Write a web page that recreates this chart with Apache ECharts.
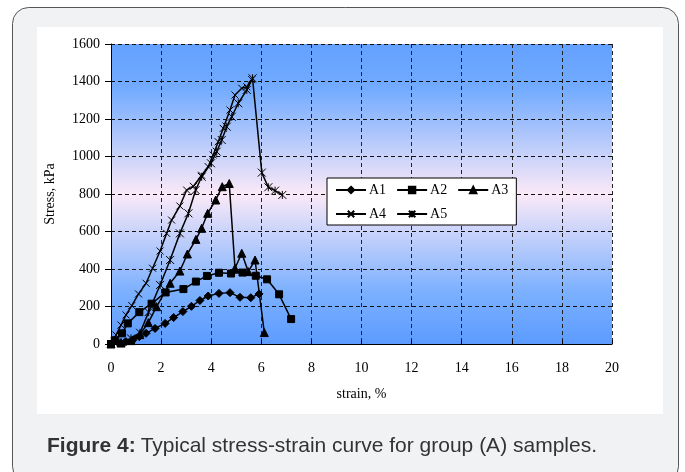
<!DOCTYPE html>
<html>
<head>
<meta charset="utf-8">
<script src="https://cdn.jsdelivr.net/npm/echarts@6/dist/echarts.min.js"></script>
<style>html,body{margin:0;padding:0;background:#fff;}#c{width:685px;height:472px;}</style>
</head>
<body>
<div id="c"></div>
<script>
const xTicks = [0,2,4,6,8,10,12,14,16,18,20];
const yTicks = [0,200,400,600,800,1000,1200,1400,1600];
const seriesNames = ['A1','A2','A3','A4','A5'];

const a1Strain = [0,0.3,0.6,0.87,1.13,1.4,1.76,2.16,2.5,2.87,3.21,3.55,3.88,4.31,4.75,5.15,5.58,5.91];
const a1Stress = [0,5,12,21,39,57,83,110,141,173,201,232,256,270,274,249,247,267];

const a2Strain = [0,0.15,0.44,0.67,1.13,1.62,2.18,2.89,3.39,3.83,4.31,4.79,5.25,5.78,6.23,6.71,7.19];
const a2Stress = [0,20,57,110,170,215,275,293,333,363,380,376,381,364,345,265,133];

const a3Strain = [0,0.4,0.8,1.15,1.49,1.82,2.36,2.75,3.05,3.39,3.62,3.86,4.18,4.44,4.72,4.95,5.22,5.48,5.75,6.12];
const a3Stress = [0,5,18,50,114,199,324,389,480,558,617,697,768,839,856,404,484,386,448,61];

const a4Strain = [0,0.2,0.4,0.6,0.83,1.1,1.4,1.66,1.96,2.22,2.42,2.75,3.02,3.29,3.62,3.88,4.08,4.28,4.48,4.75,4.95,5.22,5.42,5.62];
const a4Stress = [0,48,101,155,205,267,324,404,496,590,661,736,821,841,900,946,1008,1079,1150,1248,1328,1364,1372,1410];

const a5Strain = [0,0.4,0.8,1.16,1.5,1.96,2.36,2.75,3.09,3.38,3.62,3.99,4.22,4.42,4.62,4.82,5.08,5.42,5.65,6.02,6.28,6.55,6.84];
const a5Stress = [0,10,30,60,170,315,448,590,697,821,892,964,1026,1088,1159,1212,1284,1355,1417,914,836,818,795];

const zip = (xs, ys) => xs.map((x, i) => [x, ys[i]]);
const seriesData = [zip(a1Strain,a1Stress), zip(a2Strain,a2Stress), zip(a3Strain,a3Stress), zip(a4Strain,a4Stress), zip(a5Strain,a5Stress)];
const symbols = ['diamond','rect','triangle','path://M0,0L10,10M10,0L0,10','path://M0,0L10,10M10,0L0,10M5,0L5,10'];
const symbolSizes = [8,7,8,7,8];

const serif = 'Liberation Serif, Times New Roman, serif';
const sans = 'Liberation Sans, Arial, sans-serif';
const chart = echarts.init(document.getElementById('c'), null, {renderer:'canvas'});
chart.setOption({
  animation: false,
  backgroundColor: '#ffffff',
  graphic: [
    {type:'rect', z:-10, shape:{x:12.5,y:7.5,width:666,height:475,r:16}, style:{fill:'#f1f2f4', stroke:'#555', lineWidth:1}},
    {type:'rect', z:-9, shape:{x:37,y:27,width:626,height:387}, style:{fill:'#ffffff'}}
  ],
  title: {
    text: '{b|Figure 4:} {n|Typical stress-strain curve for group (A) samples.}',
    left: 42, top: 431,
    textStyle: {
      fontWeight: 'normal',
      rich: {
        b: {fontFamily:sans, fontSize:21, fontWeight:'bold', color:'#333'},
        n: {fontFamily:sans, fontSize:21, fontWeight:'normal', color:'#333'}
      }
    }
  },
  legend: {
    data: seriesNames,
    left: 327, top: 178, width: 188,
    orient: 'horizontal',
    backgroundColor: '#ffffff', borderColor: '#000', borderWidth: 1,
    padding: [5,8,4,8],
    itemWidth: 30, itemHeight: 8, itemGap: 10,
    textStyle: {fontFamily: serif, fontSize: 14, color:'#000', padding:[0,0,0,-2]}
  },
  grid: {
    left: 111, top: 44, right: 73, bottom: 128,
    show: true, borderWidth: 0,
    backgroundColor: new echarts.graphic.LinearGradient(0,0,0,1,[
      {offset:0, color:'#64a0ff'},
      {offset:0.15, color:'#72abff'},
      {offset:0.5, color:'#fbe9f7'},
      {offset:0.82, color:'#7db1ff'},
      {offset:1, color:'#5c9bff'}
    ])
  },
  xAxis: {
    type: 'value', min: xTicks[0], max: xTicks[xTicks.length-1], interval: 2,
    name: 'strain, %', nameLocation: 'middle', nameGap: 43,
    nameTextStyle: {fontFamily: serif, fontSize: 14, color:'#000'},
    axisLine: {show:true, onZero:false, lineStyle:{color:'#000', width:1}},
    axisTick: {show:true, inside:true, length:4, lineStyle:{color:'#000'}},
    axisLabel: {fontFamily: serif, fontSize: 14, color:'#000', margin: 17, formatter: v => String(v)},
    splitLine: {show:true, lineStyle:{color:'#222', type:[4,3], width:1}}
  },
  yAxis: {
    type: 'value', min: yTicks[0], max: yTicks[yTicks.length-1], interval: 200,
    name: 'Stress, kPa', nameLocation: 'middle', nameGap: 54, nameRotate: 90,
    nameTextStyle: {fontFamily: serif, fontSize: 14, color:'#000'},
    axisLine: {show:true, lineStyle:{color:'#000', width:1}},
    axisTick: {show:true, inside:false, length:6, lineStyle:{color:'#000'}},
    axisLabel: {fontFamily: serif, fontSize: 14, color:'#000', margin: 11, formatter: v => String(v)},
    splitLine: {show:true, lineStyle:{color:'#111', type:[4,3], width:1}}
  },
  series: seriesNames.map((n, i) => ({
    name: n, type: 'line', data: seriesData[i],
    symbol: symbols[i], symbolSize: symbolSizes[i], showAllSymbol: true,
    lineStyle: {color:'#000', width:1.5},
    itemStyle: {color:'#000', borderColor:'#000', borderWidth:1},
    emphasis: {disabled:true}
  }))
});
</script>
</body>
</html>
